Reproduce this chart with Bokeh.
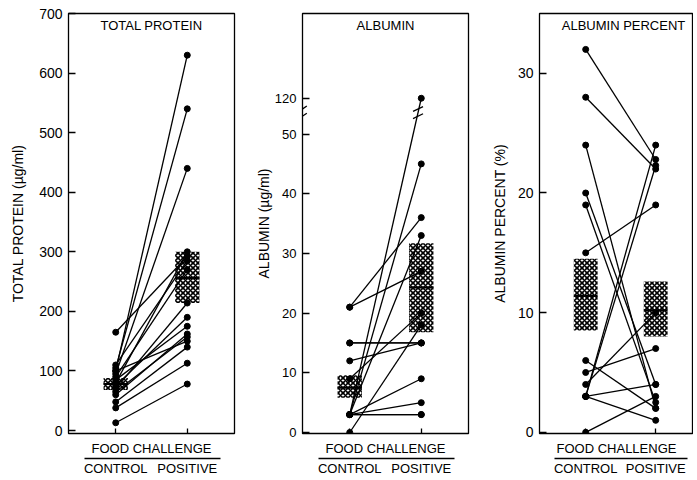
from bokeh.plotting import figure
from bokeh.layouts import row
from bokeh.models import FixedTicker, LinearAxis, Range1d, Label, ColumnDataSource
from bokeh.embed import file_html
from bokeh.resources import INLINE

FONT = "Liberation Sans"

# ---------------- data ----------------
groups = ["CONTROL", "POSITIVE"]
group_pos = [1, 2]

tp_control = [100, 105, 95, 80, 165, 110, 90, 70, 75, 85, 60, 65, 100, 48, 38, 13]
tp_positive = [630, 540, 440, 300, 292, 285, 270, 214, 190, 175, 162, 157, 150, 140, 113, 78]
tp_ticks = [0, 100, 200, 300, 400, 500, 600, 700]
tp_box_control = [68, 78, 88]        # low, mean, high
tp_box_positive = [214, 256, 300]

alb_control = [3, 3, 21, 3, 21, 9, 0, 15, 15, 12, 3, 3, 3, 3]
alb_positive = [120, 45, 36, 33, 27, 20, 18, 15, 15, 15, 9, 5, 3, 3]
alb_ticks = [0, 10, 20, 30, 40, 50, 120]
alb_box_control = [5.8, 7.5, 9.6]
alb_box_positive = [16.8, 24.3, 31.7]
alb_axis_break_value = 120   # value shown above the axis break
alb_axis_break_pos = 56      # where that value sits on the broken axis
alb_axis_break_at = 53.6

pct_control = [32, 28, 24, 20, 19, 15, 3, 3, 4, 5, 6, 3, 0, 3]
pct_positive = [22.8, 22, 2, 4, 2.5, 19, 24, 22.3, 10, 7, 2, 1, 3, 4]
pct_ticks = [0, 10, 20, 30]
pct_box_control = [8.5, 11.4, 14.5]
pct_box_positive = [8.0, 10.2, 12.6]

BOX_HALF = 0.17
H = 478


def brk(v):
    return alb_axis_break_pos if v >= alb_axis_break_value else v


def make_panel(title, ylabel, control, positive, box_c, box_p, ticks,
               y_range, x_end, width, left, right, tick_font, ylabel_standoff,
               title_x=1.5, transform=None, overrides=None):
    tf = transform if transform else (lambda v: v)
    p = figure(width=width, height=H, x_range=Range1d(0.34, x_end),
               y_range=Range1d(*y_range), output_backend="svg",
               toolbar_location=None, min_border_left=left,
               min_border_right=right, min_border_top=13, min_border_bottom=43)
    p.xgrid.visible = False
    p.ygrid.visible = False
    p.outline_line_color = "black"
    p.outline_line_width = 1.3
    p.background_fill_color = "white"
    p.border_fill_color = "white"

    # hatched boxes with mean line
    for xc, b in zip(group_pos, [box_c, box_p]):
        p.quad(left=xc - BOX_HALF, right=xc + BOX_HALF, bottom=tf(b[0]), top=tf(b[2]),
               fill_color=None, line_color=None, hatch_pattern="diagonal_cross",
               hatch_color="black", hatch_scale=5, hatch_weight=1.6)
        p.segment(x0=[xc - BOX_HALF], x1=[xc + BOX_HALF], y0=[tf(b[1])], y1=[tf(b[1])],
                  line_color="black", line_width=2)

    yc = [tf(v) for v in control]
    yp = [tf(v) for v in positive]
    src = ColumnDataSource(dict(x0=[group_pos[0]] * len(yc), x1=[group_pos[1]] * len(yp),
                                y0=yc, y1=yp))
    p.segment(x0="x0", y0="y0", x1="x1", y1="y1", source=src,
              line_color="black", line_width=1.3)
    p.scatter(x="x0", y="y0", source=src, size=6, color="black")
    p.scatter(x="x1", y="y1", source=src, size=6, color="black")

    # y axis
    ya = p.yaxis[0]
    ya.ticker = FixedTicker(ticks=[tf(t) for t in ticks])
    if overrides:
        ya.major_label_overrides = overrides
    ya.major_tick_in = 7
    ya.major_tick_out = 0
    ya.minor_tick_line_color = None
    ya.axis_line_color = "black"
    ya.major_tick_line_width = 1.3
    ya.major_label_text_font = FONT
    ya.major_label_text_font_size = tick_font
    ya.major_label_text_color = "black"
    ya.major_label_standoff = 6
    ya.axis_label = ylabel
    ya.axis_label_text_font = FONT
    ya.axis_label_text_font_size = "14px"
    ya.axis_label_text_font_style = "normal"
    ya.axis_label_text_color = "black"
    ya.axis_label_standoff = ylabel_standoff

    # x axis 1: ticks inside, label FOOD CHALLENGE
    xa = p.xaxis[0]
    xa.ticker = FixedTicker(ticks=group_pos)
    xa.major_label_overrides = {1: "", 2: ""}
    xa.major_label_text_font_size = "1px"
    xa.major_label_standoff = 0
    xa.major_tick_in = 5
    xa.major_tick_out = 0
    xa.minor_tick_line_color = None
    xa.major_tick_line_width = 1.3
    xa.axis_label = "FOOD CHALLENGE"
    xa.axis_label_text_font = FONT
    xa.axis_label_text_font_size = "13px"
    xa.axis_label_text_font_style = "normal"
    xa.axis_label_text_color = "black"
    xa.axis_label_standoff = 7

    # x axis 2: underline and group names
    xb = LinearAxis(ticker=FixedTicker(ticks=group_pos),
                    major_label_overrides={g: n for g, n in zip(group_pos, groups)},
                    bounds=(0.56, min(2.46, x_end)), major_tick_in=0, major_tick_out=0,
                    minor_tick_line_color=None, axis_line_width=1.5,
                    major_label_standoff=2, major_label_text_font=FONT,
                    major_label_text_font_size="13px", major_label_text_color="black")
    p.add_layout(xb, "below")

    p.add_layout(Label(x=title_x, y=y_range[1], y_offset=-4, text=title,
                       text_align="center", text_baseline="top", text_font=FONT,
                       text_font_size="13px", text_color="black"))
    return p


p1 = make_panel("TOTAL PROTEIN", "TOTAL PROTEIN (µg/ml)", tp_control, tp_positive,
                tp_box_control, tp_box_positive, tp_ticks, (-5, 700), 2.66,
                240, 68, 6, "14px", 10)

p2 = make_panel("ALBUMIN", "ALBUMIN (µg/ml)", alb_control, alb_positive,
                alb_box_control, alb_box_positive, alb_ticks, (-0.17, 70.2), 2.66,
                239, 62, 11, "13px", 0, transform=brk,
                overrides={alb_axis_break_pos: str(alb_axis_break_value)})

# axis break marks on the albumin axis and on the line that crosses the break
bx = 0.34
for dy in (-0.6, 0.6):
    p2.segment(x0=[bx - 0.06], x1=[bx + 0.06], y0=[alb_axis_break_at + dy - 0.5],
               y1=[alb_axis_break_at + dy + 0.5], line_color="black", line_width=1.3)
for c, v in zip(alb_control, alb_positive):
    if v >= alb_axis_break_value:
        t = (alb_axis_break_at - c) / (alb_axis_break_pos - c)
        xm = 1 + t
        for dy in (-0.6, 0.6):
            p2.segment(x0=[xm - 0.07], x1=[xm + 0.07], y0=[alb_axis_break_at + dy - 0.4],
                       y1=[alb_axis_break_at + dy + 0.4], line_color="black", line_width=1.3)

p3 = make_panel("ALBUMIN PERCENT", "ALBUMIN PERCENT (%)", pct_control, pct_positive,
                pct_box_control, pct_box_positive, pct_ticks, (-0.1, 35.0), 2.54,
                214, 60, 0, "14px", 7, title_x=1.54)

layout = row(p1, p2, p3, spacing=0)
open("out.html", "w").write(file_html(layout, INLINE))
